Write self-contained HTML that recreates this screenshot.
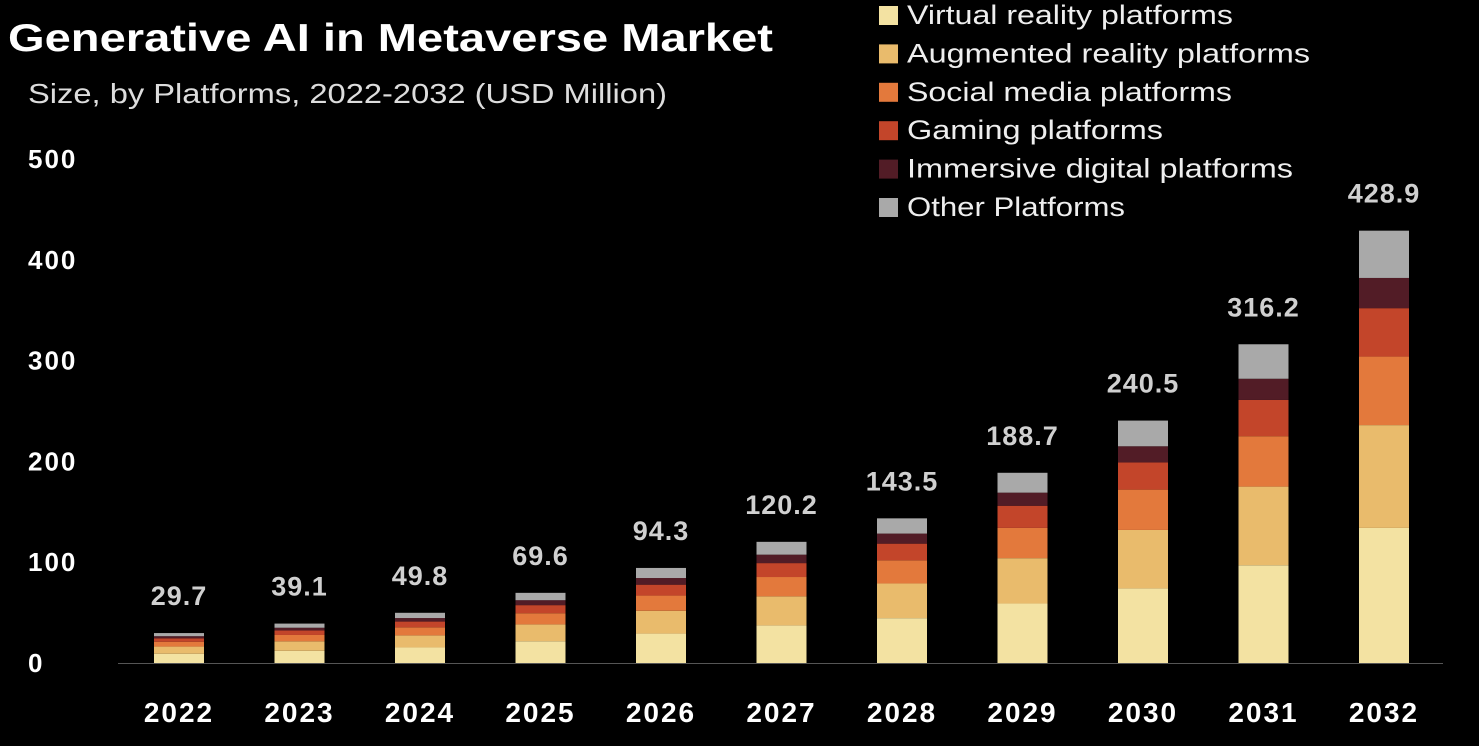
<!DOCTYPE html>
<html><head><meta charset="utf-8"><style>
body{margin:0;background:#000;width:1479px;height:741px;overflow:hidden;font-family:"Liberation Sans",sans-serif}
</style></head><body>
<svg id="chart" width="1479" height="741" xmlns="http://www.w3.org/2000/svg">
<text x="8" y="51" fill="#fff" font-size="39" font-weight="bold" textLength="765" lengthAdjust="spacingAndGlyphs">Generative AI in Metaverse Market</text>
<text x="28" y="103" fill="#ddd" font-size="28" textLength="639" lengthAdjust="spacingAndGlyphs">Size, by Platforms, 2022-2032 (USD Million)</text>
<line x1="118" y1="663.5" x2="1443" y2="663.5" stroke="#555" stroke-width="1"/>
<g id="bars"></g><g id="legend"></g>
</svg>
<script>
const years=["2022","2023","2024","2025","2026","2027","2028","2029","2030","2031","2032"];
const totals=[29.7,39.1,49.8,69.6,94.3,120.2,143.5,188.7,240.5,316.2,428.9];
const vr=[9.2,12.1,15.4,21.6,29.2,37.3,44.5,59,74,97,134];
const ar=[7.1,9.4,12.0,16.7,22.6,28.8,34.4,45,58,78,102];
const social=[4.8,6.3,8.0,11.1,15.1,19.2,23.0,30,40,50,68];
const gaming=[3.4,4.5,5.7,8.0,10.8,13.8,16.5,22,27,36,48];
const immersive=[2.1,2.7,3.5,4.9,6.6,8.4,10.0,13,16,21,30];
const other=[3.1,4.1,5.2,7.3,10.0,12.7,15.1,19.7,25.5,34.2,46.9];
const yTicks=[0,100,200,300,400,500];
const seriesNames=["Virtual reality platforms","Augmented reality platforms","Social media platforms","Gaming platforms","Immersive digital platforms","Other Platforms"];
const legendWidths=[326,403,325,256,386,218];
const series=[vr,ar,social,gaming,immersive,other];
const colors=["#f3e2a2","#e9bb6c","#e3793c","#c3452a","#521c26","#a9a9a9"];
const NS="http://www.w3.org/2000/svg";
const y0=663,pxPer=1.008,x0=179,step=120.5,bw=50;
const ys=v=>y0-v*pxPer, xs=i=>x0+i*step;
const svg=document.getElementById('chart'),g=document.getElementById('bars'),lg=document.getElementById('legend');
function mk(tag,attrs,parent){const e=document.createElementNS(NS,tag);for(const k in attrs)e.setAttribute(k,attrs[k]);parent.appendChild(e);return e;}
yTicks.forEach(t=>{const e=mk('text',{x:28,y:ys(t)+9,fill:'#fff','font-size':26,'font-weight':'bold','letter-spacing':2},svg);e.textContent=t;

});
years.forEach((yr,i)=>{let acc=0;
series.forEach((s,k)=>{const r=mk('rect',{x:xs(i)-bw/2,y:ys(acc+s[i]),width:bw,height:s[i]*pxPer,fill:colors[k]},g);acc+=s[i];

});
const v=mk('text',{x:xs(i),y:ys(totals[i])-28,fill:'#d0d0d0','font-size':27,'font-weight':'bold','text-anchor':'middle','letter-spacing':1},g);v.textContent=totals[i];


const l=mk('text',{x:xs(i),y:722,fill:'#fff','font-size':28,'font-weight':'bold','text-anchor':'middle','letter-spacing':2},g);l.textContent=yr;

});
seriesNames.forEach((n,k)=>{const cy=15+k*38.4;
const s=mk('rect',{x:879,y:cy-9,width:19,height:19,fill:colors[k]},lg);


const t=mk('text',{x:907,y:cy+9,fill:'#eee','font-size':27,textLength:legendWidths[k],lengthAdjust:'spacingAndGlyphs'},lg);t.textContent=n;

});
</script>
</body></html>
